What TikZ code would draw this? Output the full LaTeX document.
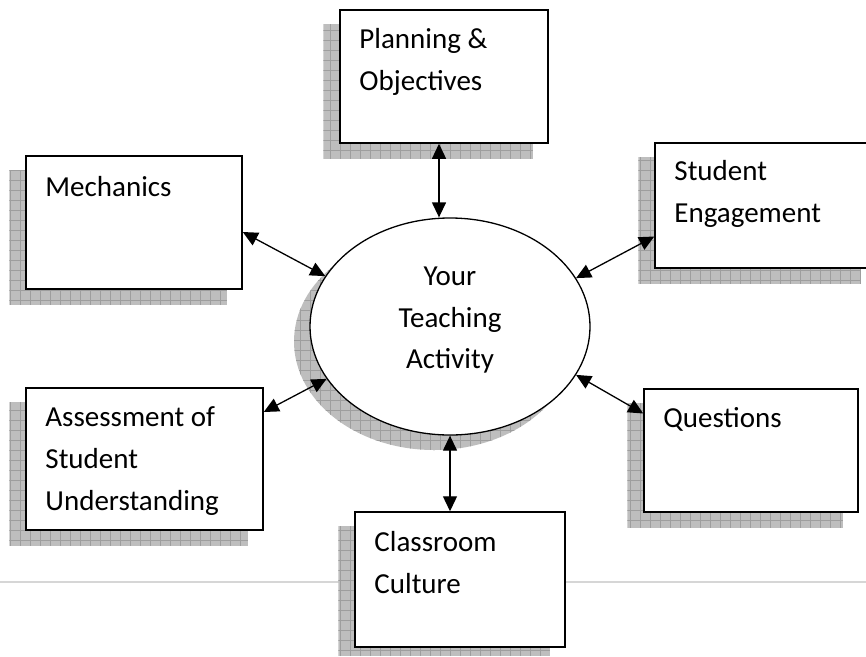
\documentclass[tikz,border=0pt]{standalone}
\usepackage{fontspec}
\setmainfont{Carlito}
\usetikzlibrary{shapes.geometric, arrows.meta}
\pgfdeclarelayer{background}
\pgfsetlayers{background,main}

\definecolor{shadowfill}{HTML}{BEBEBE}
\definecolor{shadowline}{HTML}{9E9E9E}
\definecolor{ruleline}{HTML}{D6D6D6}

% hatched drop shadow below a rectangular node
\newcommand{\gridshadow}[1]{%
  \begin{scope}
    \clip ([shift={(-16pt,-15pt)}]#1.south west) rectangle ([shift={(-16pt,-15pt)}]#1.north east);
    \fill[shadowfill] (0,0) rectangle (866,656);
    \draw[shadowline, line width=0.6pt, step=10pt] (0,656) grid (866,0);
  \end{scope}}

\tikzset{
  topic/.style={draw, fill=white, line width=1.5pt, inner sep=0pt},
  topictext/.style={anchor=north west, inner sep=0pt, align=left,
    font=\fontsize{29}{42}\selectfont},
  hub/.style={draw, ellipse, fill=white, line width=1.3pt, inner sep=0pt,
    minimum width=280pt, minimum height=217pt},
  hubtext/.style={align=center, inner sep=0pt, font=\fontsize{29}{41.5}\selectfont},
  link/.style={arrows={Triangle[length=15pt,width=14pt]-Triangle[length=15pt,width=14pt]}, line width=1.3pt},
}

\begin{document}
\begin{tikzpicture}[x=1pt, y=-1pt]
    \useasboundingbox (0,0) rectangle (866,656);
    \clip (0,0) rectangle (866,656);

    \node[topic, minimum width=208pt, minimum height=133pt] (plan) at (444,76.5) {};
    \node[topic, minimum width=216pt, minimum height=133pt] (mech) at (134,222.5) {};
    \node[topic, minimum width=221pt, minimum height=125pt] (eng) at (765.5,205.5) {};
    \node[topic, minimum width=237pt, minimum height=142pt] (assess) at (144.5,459) {};
    \node[topic, minimum width=214pt, minimum height=123pt] (ques) at (751,450.5) {};
    \node[topic, minimum width=210pt, minimum height=135pt] (class) at (460,579.5) {};
    \node[hub] (act) at (450,326.5) {};

    \node[topictext] (plantext) at ([shift={(20pt,-10pt)}]plan.north west) {\strut Planning \&\\Objectives};
    \node[topictext] (mechtext) at ([shift={(20pt,-12pt)}]mech.north west) {\strut Mechanics};
    \node[topictext] (engtext) at ([shift={(20pt,-9pt)}]eng.north west) {\strut Student\\Engagement};
    \node[topictext] (assesstext) at ([shift={(20pt,-10pt)}]assess.north west) {\strut Assessment of\\Student\\Understanding};
    \node[topictext] (questext) at ([shift={(20pt,-10pt)}]ques.north west) {\strut Questions};
    \node[topictext] (classtext) at ([shift={(20pt,-11pt)}]class.north west) {\strut Classroom\\Culture};
    \node[hubtext] (acttext) at ([yshift=6pt]act.center) {Your\\Teaching\\Activity};

    % shadows and the rule sit behind everything
    \begin{pgfonlayer}{background}
        \draw[ruleline, line width=1.5pt] (0,582) -- (866,582);
        \gridshadow{plan}
        \gridshadow{mech}
        \gridshadow{eng}
        \gridshadow{assess}
        \gridshadow{ques}
        \gridshadow{class}
        \begin{scope}
            \clip ([shift={(-16pt,-15pt)}]act.center) ellipse [x radius=140, y radius=108.5];
            \fill[shadowfill] (0,0) rectangle (866,656);
            \draw[shadowline, line width=0.6pt, step=10pt] (0,656) grid (866,0);
        \end{scope}
    \end{pgfonlayer}

    \draw[link] ([xshift=-5pt]plan.south) -- ([xshift=-5pt]plan.south |- act.north);
    \draw[link] ([yshift=-9.5pt]mech.east) -- (act.158);
    \draw[link] (act.21) -- ([yshift=-31pt]eng.west);
    \draw[link] ([yshift=47pt]assess.east) -- (act.203);
    \draw[link] (act.-21) -- ([yshift=37pt]ques.west);
    \draw[link] (act.south) -- (act.south |- class.north);

\end{tikzpicture}
\end{document}
